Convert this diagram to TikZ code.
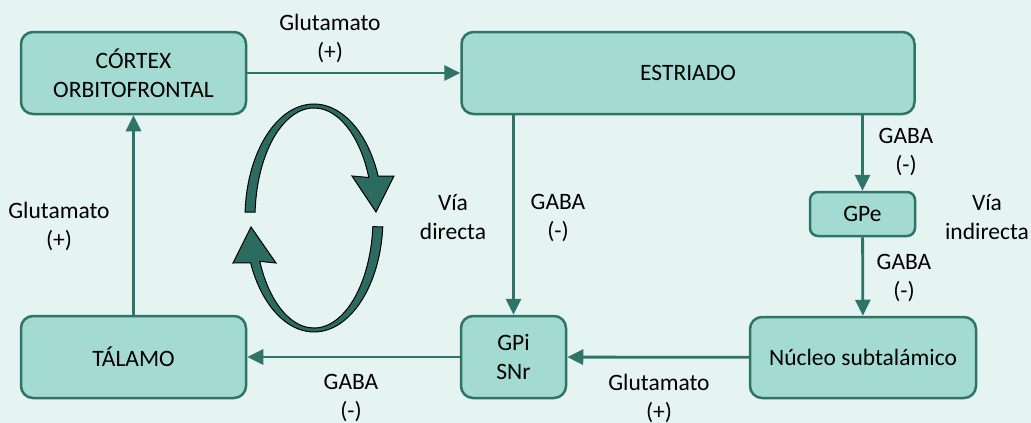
\documentclass[tikz,border=0pt]{standalone}
\usepackage{fontspec}
\setmainfont{Carlito}
\usetikzlibrary{arrows.meta}

\begin{document}
\begin{tikzpicture}[x=1pt,y=-1pt,
	box/.style={draw=gbBorder,fill=gbFill,line width=2.5pt,rounded corners=12pt,
		align=center,inner sep=0pt,font=\fontsize{23.5}{29}\selectfont},
	lbl/.style={align=center,inner sep=0pt,font=\fontsize{23.5}{29}\selectfont},
	link/.style={draw=gbBorder,line width=2.8pt,-{Triangle[length=16pt,width=15pt]}},
	ring/.style={fill=gbRing,draw=black,line width=1pt,line join=miter}]
\definecolor{gbBack}{HTML}{E6F4F1}
\definecolor{gbFill}{HTML}{A3DBD2}
\definecolor{gbBorder}{HTML}{2F7468}
\definecolor{gbRing}{HTML}{2B6B60}

\path[fill=gbBack,draw=none] (0,0) rectangle (1031,423);

% boxes
\node[box,minimum width=225pt,minimum height=82pt] (cortex) at (133.5,73) {CÓRTEX\\ORBITOFRONTAL};
\node[box,minimum width=453pt,minimum height=82pt] (estriado) at (688,73) {ESTRIADO};
\node[box,minimum width=105pt,minimum height=44pt,rounded corners=8pt] (gpe) at (862.5,214) {GPe};
\node[box,minimum width=226pt,minimum height=81pt] (nucleo) at (863,357.5) {Núcleo subtalámico};
\node[box,minimum width=105pt,minimum height=82pt] (gpi) at (513.5,357) {GPi\\SNr};
\node[box,minimum width=225pt,minimum height=82pt] (talamo) at (133.5,357) {TÁLAMO};

% connectors
\draw[link] (cortex) -- (estriado);
\draw[link] (estriado.south -| gpi.north) -- (gpi.north);
\draw[link] (estriado.south -| gpe.north) -- (gpe.north);
\draw[link] (gpe) -- (nucleo);
\draw[link] (nucleo) -- (gpi);
\draw[link] (gpi) -- (talamo);
\draw[link] (talamo) -- (cortex);

% labels
\foreach \nm/\xx/\yy/\la/\lb in {
	glutTop/330/38/Glutamato/(+),
	gabaPe/906/152/GABA/(-),
	gabaSt/904/278/GABA/(-),
	viaInd/987/217/Vía/indirecta,
	viaDir/453/217/Vía/directa,
	gabaPi/558/218/GABA/(-),
	glutTal/59/226/Glutamato/(+),
	gabaTal/351/398/GABA/(-),
	glutSt/659/398/Glutamato/(+)
} {
	\node[lbl] (\nm) at (\xx,\yy) {\la\\\lb};
}

% circular arrows
\path[ring] (245.09,212.03) arc[start angle=183,end angle=338.4,x radius=69,y radius=114]
	-- (394,176) -- (376,212) -- (352,176)
	-- (368.86,177.5) arc[start angle=338.4,end angle=183,x radius=59,y radius=110] -- cycle;
\path[ring] (382.79,226.94) arc[start angle=4.5,end angle=156.8,x radius=69,y radius=114]
	-- (233,263) -- (251,227) -- (276,263)
	-- (259.77,261.33) arc[start angle=156.8,end angle=4.5,x radius=59,y radius=110] -- cycle;
\end{tikzpicture}
\end{document}
